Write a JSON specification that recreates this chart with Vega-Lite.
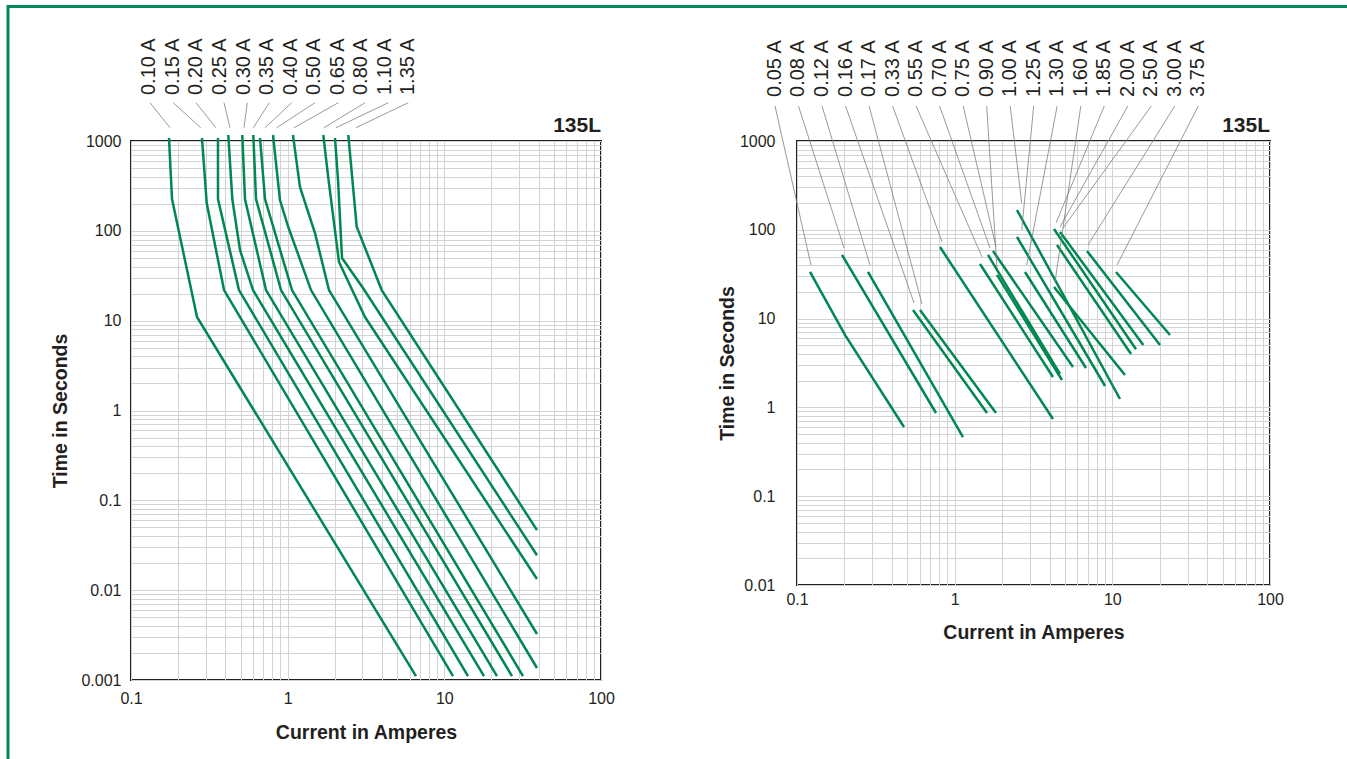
{
  "$schema": "https://vega.github.io/schema/vega-lite/v6.json",
  "autosize": {"type": "none"},
  "padding": {"left": 7.5, "top": 6, "right": 1339.5, "bottom": 753},
  "background": "white",
  "config": {
    "font": "Liberation Sans",
    "view": {"stroke": "#231f20", "strokeWidth": 2},
    "axis": {
      "labelFont": "Liberation Sans",
      "labelFontSize": 16,
      "labelColor": "#231f20",
      "labelFlush": false,
      "titleFont": "Liberation Sans",
      "titleFontSize": 19.5,
      "titleFontWeight": "bold",
      "titleColor": "#231f20",
      "ticks": false,
      "domain": false,
      "grid": true,
      "gridColor": "#d3d3d3",
      "gridWidth": 1,
      "labelExpr": "abs(log(datum.value)/LN10 - round(log(datum.value)/LN10)) < 0.001 ? format(datum.value, '~g') : ''"
    }
  },
  "datasets": {
    "lc": [
      {"s":"a","i":0,"x":0.1748,"y":1080},{"s":"a","i":1,"x":0.1827,"y":226},{"s":"a","i":2,"x":0.2638,"y":10.98},{"s":"a","i":3,"x":6.594,"y":0.001107},
      {"s":"b","i":0,"x":0.2839,"y":1080},{"s":"b","i":1,"x":0.3042,"y":204},{"s":"b","i":2,"x":0.3924,"y":21.9},{"s":"b","i":3,"x":11.36,"y":0.001107},
      {"s":"c","i":0,"x":0.359,"y":1080},{"s":"c","i":1,"x":0.3592,"y":226},{"s":"c","i":2,"x":0.4889,"y":21.9},{"s":"c","i":3,"x":14.16,"y":0.001107},
      {"s":"d","i":0,"x":0.4178,"y":1166},{"s":"d","i":1,"x":0.4432,"y":226},{"s":"d","i":2,"x":0.4963,"y":61.2},{"s":"d","i":3,"x":0.6008,"y":21.9},{"s":"d","i":4,"x":17.91,"y":0.001107},
      {"s":"e","i":0,"x":0.5132,"y":1166},{"s":"e","i":1,"x":0.534,"y":226},{"s":"e","i":2,"x":0.7273,"y":21.9},{"s":"e","i":3,"x":21.68,"y":0.001107},
      {"s":"f","i":0,"x":0.6035,"y":1166},{"s":"f","i":1,"x":0.628,"y":226},{"s":"f","i":2,"x":0.9066,"y":21.9},{"s":"f","i":3,"x":27.03,"y":0.001107},
      {"s":"g","i":0,"x":0.666,"y":1080},{"s":"g","i":1,"x":0.7167,"y":226},{"s":"g","i":2,"x":1.0656,"y":21.9},{"s":"g","i":3,"x":31.78,"y":0.001107},
      {"s":"h","i":0,"x":0.806,"y":1166},{"s":"h","i":1,"x":0.893,"y":220},{"s":"h","i":2,"x":1.009,"y":110.3},{"s":"h","i":3,"x":1.409,"y":21.9},{"s":"h","i":4,"x":39.03,"y":0.00136},
      {"s":"j","i":0,"x":1.081,"y":1166},{"s":"j","i":1,"x":1.198,"y":307.5},{"s":"j","i":2,"x":1.494,"y":94.6},{"s":"j","i":3,"x":1.835,"y":21.9},{"s":"j","i":4,"x":39.03,"y":0.00325},
      {"s":"k","i":0,"x":1.688,"y":1166},{"s":"k","i":1,"x":1.817,"y":387.6},{"s":"k","i":2,"x":2.126,"y":45.0},{"s":"k","i":3,"x":3.116,"y":10.98},{"s":"k","i":4,"x":39.03,"y":0.0133},
      {"s":"l","i":0,"x":2.005,"y":1080},{"s":"l","i":1,"x":2.096,"y":368},{"s":"l","i":2,"x":2.223,"y":49.8},{"s":"l","i":3,"x":3.025,"y":23.1},{"s":"l","i":4,"x":39.03,"y":0.0245},
      {"s":"m","i":0,"x":2.438,"y":1166},{"s":"m","i":1,"x":2.758,"y":111.2},{"s":"m","i":2,"x":3.983,"y":21.9},{"s":"m","i":3,"x":39.03,"y":0.0466}
    ],
    "ll": [
      {"t":"0.10 A","lx":0.1309,"x1":0.1322,"x2":0.1774,"ly":3250,"y1":2667,"y2":1406},
      {"t":"0.15 A","lx":0.1849,"x1":0.1862,"x2":0.2786,"ly":3250,"y1":2667,"y2":1406},
      {"t":"0.20 A","lx":0.2615,"x1":0.26,"x2":0.3487,"ly":3250,"y1":2667,"y2":1406},
      {"t":"0.25 A","lx":0.3694,"x1":0.3924,"x2":0.4284,"ly":3250,"y1":2667,"y2":1406},
      {"t":"0.30 A","lx":0.5225,"x1":0.5526,"x2":0.5264,"ly":3250,"y1":2667,"y2":1406},
      {"t":"0.35 A","lx":0.7381,"x1":0.7635,"x2":0.6035,"ly":3250,"y1":2667,"y2":1406},
      {"t":"0.40 A","lx":1.044,"x1":1.061,"x2":0.7167,"ly":3250,"y1":2667,"y2":1406},
      {"t":"0.50 A","lx":1.475,"x1":1.494,"x2":0.851,"ly":3250,"y1":2667,"y2":1406},
      {"t":"0.65 A","lx":2.086,"x1":2.105,"x2":1.098,"ly":3250,"y1":2667,"y2":1406},
      {"t":"0.80 A","lx":2.946,"x1":3.116,"x2":1.706,"ly":3250,"y1":2667,"y2":1406},
      {"t":"1.10 A","lx":4.169,"x1":4.388,"x2":2.035,"ly":3250,"y1":2667,"y2":1406},
      {"t":"1.35 A","lx":5.888,"x1":5.888,"x2":2.73,"ly":3250,"y1":2667,"y2":1406}
    ],
    "rc": [
      {"s":"a","i":0,"x":0.1209,"y":33.5},{"s":"a","i":1,"x":0.2015,"y":6.54},{"s":"a","i":2,"x":0.4771,"y":0.602},
      {"s":"b","i":0,"x":0.193,"y":52.1},{"s":"b","i":1,"x":0.7614,"y":0.865},
      {"s":"c","i":0,"x":0.282,"y":33.5},{"s":"c","i":1,"x":1.129,"y":0.464},
      {"s":"d","i":0,"x":0.5442,"y":12.49},{"s":"d","i":1,"x":1.604,"y":0.865},
      {"s":"e","i":0,"x":0.6027,"y":12.49},{"s":"e","i":1,"x":1.829,"y":0.865},
      {"s":"f","i":0,"x":0.807,"y":64.0},{"s":"f","i":1,"x":4.204,"y":0.74},
      {"s":"g","i":0,"x":1.448,"y":41.2},{"s":"g","i":1,"x":4.204,"y":2.2},
      {"s":"h","i":0,"x":1.627,"y":52.1},{"s":"h","i":1,"x":4.656,"y":2.38},
      {"s":"j","i":0,"x":1.751,"y":57.7},{"s":"j","i":1,"x":5.63,"y":2.85},
      {"s":"k","i":0,"x":1.856,"y":31.0},{"s":"k","i":1,"x":4.794,"y":2.035},
      {"s":"l","i":0,"x":2.485,"y":167},{"s":"l","i":1,"x":11.18,"y":1.243},
      {"s":"m","i":0,"x":2.485,"y":83.0},{"s":"m","i":1,"x":8.99,"y":1.742},
      {"s":"n","i":0,"x":2.793,"y":33.5},{"s":"n","i":1,"x":6.807,"y":2.78},
      {"s":"o","i":0,"x":4.266,"y":22.7},{"s":"o","i":1,"x":12.03,"y":2.317},
      {"s":"p","i":0,"x":4.266,"y":102.1},{"s":"p","i":1,"x":14.13,"y":4.51},
      {"s":"q","i":0,"x":4.656,"y":94.5},{"s":"q","i":1,"x":15.72,"y":5.04},
      {"s":"r","i":0,"x":4.457,"y":67.5},{"s":"r","i":1,"x":13.14,"y":3.99},
      {"s":"u","i":0,"x":6.908,"y":57.7},{"s":"u","i":1,"x":20.06,"y":5.04},
      {"s":"v","i":0,"x":10.55,"y":33.5},{"s":"v","i":1,"x":23.21,"y":6.54}
    ],
    "rl": [
      {"t":"0.05 A","lx":0.07253,"x2":0.1227,"ly":3130,"y1":2478,"y2":40.1},
      {"t":"0.08 A","lx":0.1022,"x2":0.1987,"ly":3130,"y1":2478,"y2":62.4},
      {"t":"0.12 A","lx":0.1441,"x2":0.2904,"ly":3130,"y1":2478,"y2":40.1},
      {"t":"0.16 A","lx":0.2033,"x2":0.5524,"ly":3130,"y1":2478,"y2":14.99},
      {"t":"0.17 A","lx":0.2866,"x2":0.6205,"ly":3130,"y1":2478,"y2":14.6},
      {"t":"0.33 A","lx":0.4041,"x2":0.8313,"ly":3130,"y1":2478,"y2":72.9},
      {"t":"0.55 A","lx":0.5691,"x2":1.491,"ly":3130,"y1":2478,"y2":49.4},
      {"t":"0.70 A","lx":0.8024,"x2":1.675,"ly":3130,"y1":2478,"y2":62.4},
      {"t":"0.75 A","lx":1.1325,"x2":1.829,"ly":3130,"y1":2478,"y2":64.0},
      {"t":"0.90 A","lx":1.5967,"x2":1.856,"ly":3130,"y1":2478,"y2":37.1},
      {"t":"1.00 A","lx":2.2503,"x2":2.662,"ly":3130,"y1":2478,"y2":200.4},
      {"t":"1.25 A","lx":3.1713,"x2":2.662,"ly":3130,"y1":2478,"y2":99.5},
      {"t":"1.30 A","lx":4.4701,"x2":2.863,"ly":3130,"y1":2478,"y2":40.1},
      {"t":"1.60 A","lx":6.3096,"x2":4.329,"ly":3130,"y1":2478,"y2":25.8},
      {"t":"1.85 A","lx":8.892,"x2":4.393,"ly":3130,"y1":2478,"y2":119.3},
      {"t":"2.00 A","lx":12.535,"x2":4.656,"ly":3130,"y1":2478,"y2":107.5},
      {"t":"2.50 A","lx":17.665,"x2":4.866,"ly":3130,"y1":2478,"y2":104.8},
      {"t":"3.00 A","lx":24.9,"x2":7.009,"ly":3130,"y1":2478,"y2":67.5},
      {"t":"3.75 A","lx":35.1,"x2":10.7,"ly":3130,"y1":2478,"y2":40.1}
    ]
  },
  "bounds": "flush",
  "spacing": 0,
  "hconcat": [
    {
      "width": 1,
      "height": 760,
      "view": {"stroke": "#00875a", "strokeWidth": 2, "fill": null},
      "data": {"values": [{"v": 1}]},
      "mark": {"type": "point", "opacity": 0},
      "encoding": {}
    },
    {
      "bounds": "flush",
      "spacing": 134,
      "vconcat": [
        {
          "width": 1340,
          "height": 1,
          "view": {"stroke": "#00875a", "strokeWidth": 2, "fill": null},
          "data": {"values": [{"v": 1}]},
          "mark": {"type": "point", "opacity": 0},
          "encoding": {}
        },
        {
          "bounds": "flush",
          "spacing": 121.5,
          "hconcat": [
            {
              "width": 1,
              "height": 1,
              "view": {"stroke": null, "fill": null},
              "data": {"values": [{"v": 1}]},
              "mark": {"type": "point", "opacity": 0},
              "encoding": {}
            },
            {
              "bounds": "flush",
              "spacing": 196,
              "hconcat": [
                {
                  "width": 470,
                  "height": 539,
                  "layer": [
                    {
                      "data": {"name": "lc"},
                      "mark": {"type": "line", "color": "#008752", "strokeWidth": 2.5, "clip": false},
                      "encoding": {
                        "x": {"field": "x", "type": "quantitative",
                              "scale": {"type": "log", "domain": [0.1, 100], "nice": false},
                              "axis": {"title": "Current in Amperes", "labelPadding": 10, "titlePadding": 17,
                                       "values": [0.1,0.2,0.3,0.4,0.5,0.6,0.7,0.8,0.9,1,2,3,4,5,6,7,8,9,10,20,30,40,50,60,70,80,90,100]}},
                        "y": {"field": "y", "type": "quantitative",
                              "scale": {"type": "log", "domain": [0.001, 1000], "nice": false},
                              "axis": {"title": "Time in Seconds", "labelPadding": 10, "titlePadding": 10,
                                       "values": [0.001,0.002,0.003,0.004,0.005,0.006,0.007,0.008,0.009,0.01,0.02,0.03,0.04,0.05,0.06,0.07,0.08,0.09,0.1,0.2,0.3,0.4,0.5,0.6,0.7,0.8,0.9,1,2,3,4,5,6,7,8,9,10,20,30,40,50,60,70,80,90,100,200,300,400,500,600,700,800,900,1000]}},
                        "detail": {"field": "s", "type": "nominal"},
                        "order": {"field": "i", "type": "quantitative"}
                      }
                    },
                    {
                      "data": {"name": "ll"},
                      "mark": {"type": "rule", "color": "#7f7f7f", "strokeWidth": 0.8, "clip": false},
                      "encoding": {
                        "x": {"field": "x1", "type": "quantitative"},
                        "x2": {"field": "x2"},
                        "y": {"field": "y1", "type": "quantitative"},
                        "y2": {"field": "y2"}
                      }
                    },
                    {
                      "data": {"name": "ll"},
                      "mark": {"type": "text", "angle": 270, "align": "left", "baseline": "middle", "fontSize": 20, "color": "#231f20", "clip": false},
                      "encoding": {
                        "x": {"field": "lx", "type": "quantitative"},
                        "y": {"field": "ly", "type": "quantitative"},
                        "text": {"field": "t", "type": "nominal"}
                      }
                    },
                    {
                      "data": {"values": [{"t": "135L", "x": 100, "y": 1000}]},
                      "mark": {"type": "text", "align": "right", "baseline": "bottom", "fontSize": 21, "fontWeight": "bold", "color": "#231f20", "dy": -5, "clip": false},
                      "encoding": {
                        "x": {"field": "x", "type": "quantitative"},
                        "y": {"field": "y", "type": "quantitative"},
                        "text": {"field": "t", "type": "nominal"}
                      }
                    }
                  ]
                },
                {
                  "width": 473,
                  "height": 444,
                  "layer": [
                    {
                      "data": {"name": "rc"},
                      "mark": {"type": "line", "color": "#008752", "strokeWidth": 2.5, "clip": false},
                      "encoding": {
                        "x": {"field": "x", "type": "quantitative",
                              "scale": {"type": "log", "domain": [0.1, 100], "nice": false},
                              "axis": {"title": "Current in Amperes", "labelPadding": 6, "titlePadding": 16,
                                       "values": [0.1,0.2,0.3,0.4,0.5,0.6,0.7,0.8,0.9,1,2,3,4,5,6,7,8,9,10,20,30,40,50,60,70,80,90,100]}},
                        "y": {"field": "y", "type": "quantitative",
                              "scale": {"type": "log", "domain": [0.01, 1000], "nice": false},
                              "axis": {"title": "Time in Seconds", "labelPadding": 22, "titlePadding": 2,
                                       "values": [0.01,0.02,0.03,0.04,0.05,0.06,0.07,0.08,0.09,0.1,0.2,0.3,0.4,0.5,0.6,0.7,0.8,0.9,1,2,3,4,5,6,7,8,9,10,20,30,40,50,60,70,80,90,100,200,300,400,500,600,700,800,900,1000]}},
                        "detail": {"field": "s", "type": "nominal"},
                        "order": {"field": "i", "type": "quantitative"}
                      }
                    },
                    {
                      "data": {"name": "rl"},
                      "mark": {"type": "rule", "color": "#7f7f7f", "strokeWidth": 0.8, "clip": false},
                      "encoding": {
                        "x": {"field": "lx", "type": "quantitative"},
                        "x2": {"field": "x2"},
                        "y": {"field": "y1", "type": "quantitative"},
                        "y2": {"field": "y2"}
                      }
                    },
                    {
                      "data": {"name": "rl"},
                      "mark": {"type": "text", "angle": 270, "align": "left", "baseline": "middle", "fontSize": 20, "color": "#231f20", "clip": false},
                      "encoding": {
                        "x": {"field": "lx", "type": "quantitative"},
                        "y": {"field": "ly", "type": "quantitative"},
                        "text": {"field": "t", "type": "nominal"}
                      }
                    },
                    {
                      "data": {"values": [{"t": "135L", "x": 100, "y": 1000}]},
                      "mark": {"type": "text", "align": "right", "baseline": "bottom", "fontSize": 21, "fontWeight": "bold", "color": "#231f20", "dy": -5, "clip": false},
                      "encoding": {
                        "x": {"field": "x", "type": "quantitative"},
                        "y": {"field": "y", "type": "quantitative"},
                        "text": {"field": "t", "type": "nominal"}
                      }
                    }
                  ]
                }
              ]
            }
          ]
        }
      ]
    }
  ]
}
